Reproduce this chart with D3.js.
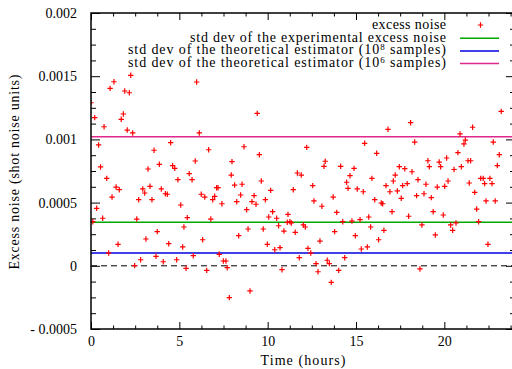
<!DOCTYPE html>
<html>
<head>
<meta charset="utf-8">
<script src="https://cdn.jsdelivr.net/npm/d3@7"></script>
<style>
  body { margin: 0; background: #fff; }
  text { font-family: "Liberation Serif", "Times New Roman", serif; font-size: 14px; fill: #000; }
</style>
</head>
<body>
<div id="chart"></div>
<script>
// time in hours
var times = [
  0.00, 0.10, 0.21, 0.32, 0.43, 0.54, 0.66, 0.74, 0.89, 1.00,
  1.08, 1.19, 1.30, 1.42, 1.53, 1.60, 1.71, 1.83, 1.91, 2.05,
  2.17, 2.25, 2.36, 2.47, 2.59, 2.70, 2.81, 2.93, 3.04, 3.11,
  3.23, 3.34, 3.45, 3.57, 3.68, 3.75, 3.87, 3.98, 4.09, 4.21,
  4.32, 4.40, 4.51, 4.62, 4.74, 4.85, 4.92, 5.08, 5.19, 5.26,
  5.38, 5.45, 5.56, 5.72, 5.79, 5.90, 5.98, 6.13, 6.24, 6.32,
  6.44, 6.55, 6.66, 6.78, 6.89, 7.00, 7.11, 7.19, 7.26, 7.41,
  7.49, 7.64, 7.71, 7.83, 7.94, 7.98, 8.13, 8.25, 8.36, 8.47,
  8.55, 8.66, 8.81, 8.89, 9.00, 9.11, 9.23, 9.34, 9.41, 9.53,
  9.64, 9.75, 9.87, 9.98, 10.06, 10.17, 10.28, 10.40, 10.51, 10.62,
  10.70, 10.81, 10.92, 11.11, 11.15, 11.26, 11.34, 11.45, 11.56, 11.68,
  11.79, 11.90, 12.02, 12.13, 12.21, 12.28, 12.44, 12.55, 12.62, 12.74,
  12.85, 12.96, 13.07, 13.19, 13.26, 13.37, 13.49, 13.60, 13.71, 13.79,
  13.91, 14.02, 14.13, 14.25, 14.36, 14.47, 14.55, 14.66, 14.77, 14.89,
  14.96, 15.07, 15.23, 15.30, 15.41, 15.49, 15.64, 15.72, 15.83, 15.90,
  16.06, 16.17, 16.28, 16.43, 16.51, 16.58, 16.70, 16.81, 16.92, 17.04,
  17.11, 17.22, 17.34, 17.45, 17.56, 17.64, 17.76, 17.90, 17.98, 18.09,
  18.17, 18.32, 18.43, 18.51, 18.62, 18.73, 18.85, 18.96, 19.07, 19.15,
  19.26, 19.37, 19.49, 19.60, 19.71, 19.79, 19.94, 20.02, 20.13, 20.21,
  20.36, 20.47, 20.55, 20.66, 20.77, 20.89, 20.96, 21.11, 21.19, 21.34,
  21.41, 21.49, 21.60, 21.72, 21.83, 21.94, 22.06, 22.20, 22.28, 22.36,
  22.47, 22.58, 22.70, 22.77, 22.88, 23.00, 23.11, 23.22
];

// excess noise, in units of 1e-3 shot noise units
var noiseMilli = [
  1.290, 0.349, 1.172, 0.455, 0.956, 0.782, 0.376, 1.100, 0.692, 0.101,
  1.404, 0.544, 1.456, 0.623, 0.170, 0.602, 1.159, 1.201, 1.383, 1.074,
  1.369, 1.507, 1.051, 0.001, 0.370, 0.523, 0.048, 0.608, 0.576, 0.212,
  0.766, 0.629, 0.523, 0.914, 0.075, 0.270, 0.803, 0.608, 0.032, 0.570,
  0.566, 0.175, 0.974, 0.792, 0.771, 0.048, 0.681, 0.481, 0.149, 0.307,
  -0.020, 0.381, 0.729, 0.681, 0.080, 0.829, 1.454, 1.051, 0.566, 0.206,
  0.544, -0.036, 0.918, 0.370, 0.523, 0.550, 0.618, 0.618, 0.091, 0.491,
  0.038, 0.038, -0.015, -0.252, 0.718, 0.824, 0.639, 0.507, 0.238, 0.560,
  0.645, 0.942, 0.444, 0.291, -0.199, 0.507, 0.555, 0.487, 1.206, 0.879,
  0.671, 0.291, 0.523, 0.170, 0.386, 0.597, 0.428, 0.127, 0.376, 0.317,
  0.143, -0.031, 0.275, 0.344, 0.407, 0.349, 0.339, 0.602, 0.265, 0.734,
  0.064, 0.718, 0.323, 0.307, 0.937, 0.138, 0.101, 0.634, 0.513, 0.017,
  -0.047, 0.196, 0.471, 0.787, 0.827, 0.044, 0.017, -0.131, 0.544, 0.270,
  0.423, -0.036, 0.787, 0.349, 0.064, 0.661, 0.613, 0.713, 0.354, 0.771,
  0.238, 0.608, 0.365, 0.133, 0.586, 0.969, 0.149, 0.386, 0.307, 0.692,
  0.523, 0.890, 0.206, 0.497, 0.491, 0.281, 0.634, 1.080, 0.586, 0.428,
  0.671, 0.718, 0.592, 0.784, 0.534, 0.634, 0.768, 0.650, 0.392, 1.132,
  0.744, 0.979, 0.555, 0.681, -0.025, 0.323, 0.570, 0.645, 0.831, 0.784,
  0.539, 0.428, 0.244, 0.623, 0.821, 0.784, 0.402, 0.629, 0.853, 0.671,
  0.323, 0.281, 0.762, 0.339, 0.895, 1.043, 0.784, 0.964, 0.995, 0.831,
  0.655, 0.831, 1.096, 0.581, 0.449, 0.349, 0.692, 0.692, 0.650, 0.513,
  0.170, 0.692, 0.650, 0.979, 0.513, 0.793, 0.879, 1.222
];

var levelValues = [0.000344, 0.000101, 0.00102];
var levelColors = ["#00a800", "#0000e0", "#e0288c"];

var xMajor = [0, 5, 10, 15, 20];
var xMinorStep = 1.25;
var yMajor = [-0.0005, 0, 0.0005, 0.001, 0.0015, 0.002];
var yTickLabels = ["- 0.0005", "0", "0.0005", "0.001", "0.0015", "0.002"];
var yMinorStep = 0.000125;

var size = {
  width: 512,
  height: 369,
  left: 91,
  top: 13,
  bottom: 329,
  right: 515
};

var svg = d3.select("#chart")
  .append("svg")
  .attr("width", size.width)
  .attr("height", size.height);

var xScale = d3.scaleLinear().domain([0, 24]).range([size.left, size.right]);
var yScale = d3.scaleLinear().domain([-0.0005, 0.002]).range([size.bottom, size.top]);

var xMinor = d3.range(0, 24.01, xMinorStep).filter(function (d) { return xMajor.indexOf(d) < 0; });
var yMinor = d3.range(-0.0005, 0.00201, yMinorStep).filter(function (d) {
  return !yMajor.some(function (m) { return Math.abs(m - d) < 1e-9; });
});

svg.append("clipPath").attr("id", "plot")
  .append("rect")
  .attr("x", size.left)
  .attr("y", size.top)
  .attr("width", size.right - size.left)
  .attr("height", size.bottom - size.top);

// ticks: major then minor, on all four sides
function tickAxis(axis, values, len, transform) {
  svg.append("g")
    .attr("transform", transform)
    .call(axis.tickValues(values).tickSize(len).tickFormat(""))
    .call(function (g) { g.select(".domain").remove(); })
    .selectAll("line").attr("stroke", "#000").attr("stroke-width", 1);
}
tickAxis(d3.axisTop(xScale), xMajor, 7, "translate(0," + size.bottom + ")");
tickAxis(d3.axisTop(xScale), xMinor, 3.5, "translate(0," + size.bottom + ")");
tickAxis(d3.axisBottom(xScale), xMajor, 7, "translate(0," + size.top + ")");
tickAxis(d3.axisBottom(xScale), xMinor, 3.5, "translate(0," + size.top + ")");
tickAxis(d3.axisRight(yScale), yMajor, 9, "translate(" + size.left + ",0)");
tickAxis(d3.axisRight(yScale), yMinor, 5, "translate(" + size.left + ",0)");
tickAxis(d3.axisLeft(yScale), yMajor, 9, "translate(" + size.right + ",0)");
tickAxis(d3.axisLeft(yScale), yMinor, 5, "translate(" + size.right + ",0)");

// tick labels
var xLab = svg.append("g")
  .attr("transform", "translate(0," + size.bottom + ")")
  .call(d3.axisBottom(xScale).tickValues(xMajor).tickSize(0).tickPadding(7).tickFormat(d3.format("d")));
xLab.select(".domain").remove();
xLab.selectAll("text").attr("font-size", 14).attr("font-family", null);

var yLab = svg.append("g")
  .attr("transform", "translate(" + size.left + ",0)")
  .call(d3.axisLeft(yScale).tickValues(yMajor).tickSize(0).tickPadding(14)
    .tickFormat(function (d, i) { return yTickLabels[i]; }));
yLab.select(".domain").remove();
yLab.selectAll("text").attr("font-size", 14).attr("font-family", null);

// zero line
svg.append("line")
  .attr("x1", xScale(0)).attr("x2", size.right)
  .attr("y1", yScale(0)).attr("y2", yScale(0))
  .attr("stroke", "#000").attr("stroke-width", 1)
  .attr("stroke-dasharray", "6,4");

// reference levels
svg.selectAll(".level")
  .data(levelValues)
  .enter()
  .append("line")
  .attr("class", "level")
  .attr("x1", size.left).attr("x2", size.right)
  .attr("y1", function (d) { return yScale(d); })
  .attr("y2", function (d) { return yScale(d); })
  .attr("stroke", function (d, i) { return levelColors[i]; })
  .attr("stroke-width", 1.5);

// points
var plusPath = "M-2.7,0H2.7M0,-2.7V2.7";
var pts = svg.append("g").attr("clip-path", "url(#plot)");
pts.selectAll("path")
  .data(times)
  .enter()
  .append("path")
  .attr("d", plusPath)
  .attr("transform", function (d, i) {
    return "translate(" + xScale(d) + "," + yScale(noiseMilli[i] / 1000) + ")";
  })
  .attr("stroke", "#ff0000")
  .attr("stroke-width", 1.2)
  .attr("fill", "none");

// border
svg.append("path")
  .attr("d", "M" + size.right + "," + size.top + "H" + size.left + "V" + size.bottom + "H" + size.right)
  .attr("fill", "none")
  .attr("stroke", "#000")
  .attr("stroke-width", 1.5);

// legend
var legendRows = [
  { text: ["excess noise"], kind: "point", width: 74 },
  { text: ["std dev of the experimental excess noise"], kind: 0, width: 256 },
  { text: ["std dev of the theoretical estimator (10", "8", " samples)"], kind: 1, width: 318 },
  { text: ["std dev of the theoretical estimator (10", "6", " samples)"], kind: 2, width: 318 }
];
var legend = svg.append("g");
legendRows.forEach(function (row, i) {
  var y = 25 + i * 12.7;
  var t = legend.append("text")
    .attr("x", 446)
    .attr("y", y + 4)
    .attr("text-anchor", "end")
    .attr("font-size", 13)
    .attr("textLength", row.width)
    .attr("lengthAdjust", "spacing");
  row.text.forEach(function (s, j) {
    var ts = t.append("tspan").text(s);
    if (j === 1) ts.attr("dy", -4.5).attr("font-size", 9);
    if (j === 2) ts.attr("dy", 4.5);
  });
  if (row.kind === "point") {
    legend.append("path")
      .attr("d", plusPath)
      .attr("transform", "translate(480.5," + y + ")")
      .attr("stroke", "#ff0000")
      .attr("stroke-width", 1.2);
  } else {
    legend.append("line")
      .attr("x1", 460).attr("x2", 499)
      .attr("y1", y + 0.5).attr("y2", y + 0.5)
      .attr("stroke", levelColors[row.kind])
      .attr("stroke-width", 1.5);
  }
});

// axis titles
svg.append("text")
  .attr("x", (size.left + size.right) / 2)
  .attr("y", 365)
  .attr("text-anchor", "middle")
  .attr("textLength", 85)
  .attr("lengthAdjust", "spacing")
  .text("Time (hours)");

svg.append("text")
  .attr("transform", "translate(19,172) rotate(-90)")
  .attr("text-anchor", "middle")
  .attr("font-size", 15)
  .attr("textLength", 195)
  .attr("lengthAdjust", "spacing")
  .text("Excess noise (shot noise units)");
</script>
</body>
</html>
